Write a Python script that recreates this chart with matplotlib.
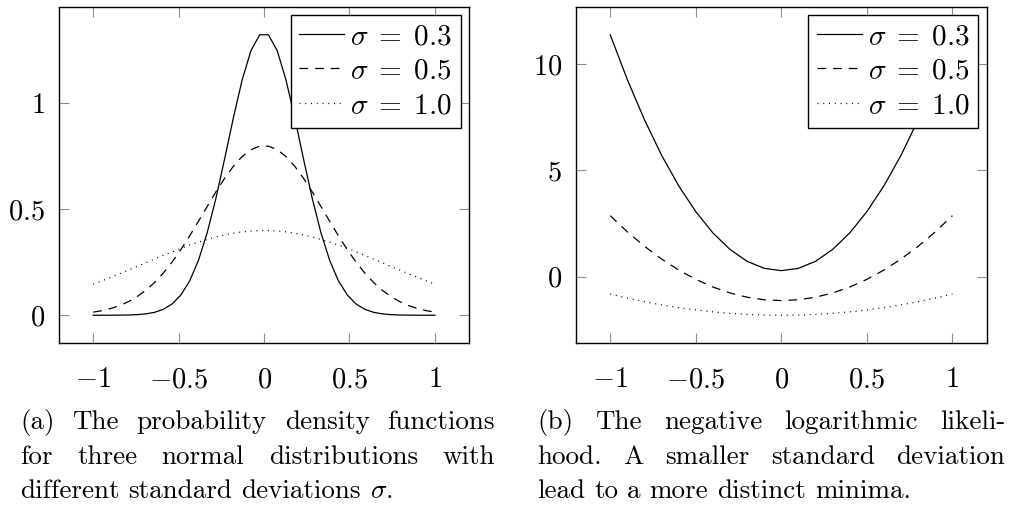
import numpy as np
import matplotlib
matplotlib.use("Agg")
import matplotlib.pyplot as plt

plt.rcParams["font.family"] = ["cmr10", "DejaVu Serif"]
plt.rcParams["mathtext.fontset"] = "cm"
plt.rcParams["axes.formatter.use_mathtext"] = True

# left plot: x >= 0 half of the 40 samples (curves are symmetric)
x_half = [0.0256, 0.0769, 0.1282, 0.1795, 0.2308, 0.2821, 0.3333, 0.3846, 0.4359, 0.4872,
          0.5385, 0.5897, 0.6410, 0.6923, 0.7436, 0.7949, 0.8462, 0.8974, 0.9487, 1.0]
pdf_03 = [1.3201, 1.2452, 1.1079, 0.9297, 0.7359, 0.5495, 0.3870, 0.2570, 0.1610, 0.0952,
          0.0531, 0.0279, 0.0138, 0.0065, 0.0029, 0.0012, 0.0005, 0.0002, 0.0001, 0.0000]
pdf_05 = [0.7958, 0.7792, 0.7471, 0.7014, 0.6448, 0.5805, 0.5116, 0.4415, 0.3731, 0.3088,
          0.2502, 0.1985, 0.1542, 0.1173, 0.0874, 0.0637, 0.0455, 0.0318, 0.0218, 0.0146]
pdf_10 = [0.3986, 0.3966, 0.3924, 0.3863, 0.3782, 0.3684, 0.3570, 0.3441, 0.3299, 0.3146,
          0.2985, 0.2817, 0.2645, 0.2470, 0.2295, 0.2121, 0.1950, 0.1783, 0.1622, 0.1468]

# right plot: negative log likelihood
x_nll = [-1.0, -0.9, -0.8, -0.7, -0.6, -0.5, -0.4, -0.3, -0.2, -0.1, 0.0,
         0.1, 0.2, 0.3, 0.4, 0.5, 0.6, 0.7, 0.8, 0.9, 1.0]
nll_03 = [11.39, 9.28, 7.39, 5.72, 4.28, 3.06, 2.06, 1.28, 0.72, 0.39, 0.28,
          0.39, 0.72, 1.28, 2.06, 3.06, 4.28, 5.72, 7.39, 9.28, 11.39]
nll_05 = [2.87, 2.11, 1.43, 0.83, 0.31, -0.13, -0.49, -0.77, -0.97, -1.09, -1.13,
          -1.09, -0.97, -0.77, -0.49, -0.13, 0.31, 0.83, 1.43, 2.11, 2.87]
nll_10 = [-0.82, -1.01, -1.18, -1.33, -1.46, -1.57, -1.66, -1.73, -1.78, -1.81, -1.82,
          -1.81, -1.78, -1.73, -1.66, -1.57, -1.46, -1.33, -1.18, -1.01, -0.82]

labels = [r"$\sigma\;=\;0.3$", r"$\sigma\;=\;0.5$", r"$\sigma\;=\;1.0$"]
styles = ["-", (0, (7, 5.5)), (0, (0.8, 3.8))]


def mirror(v, neg=False):
    v = np.array(v)
    return np.concatenate([(-v if neg else v)[::-1], v])


x_pdf = mirror(x_half, neg=True)

fig = plt.figure(figsize=(10.18, 5.08), dpi=100)
ax1 = fig.add_axes([0.058, 0.3242, 0.4028, 0.6626])
ax2 = fig.add_axes([0.5658, 0.3242, 0.4034, 0.6626])

for ys, ls, lab in zip([pdf_03, pdf_05, pdf_10], styles, labels):
    ax1.plot(x_pdf, mirror(ys), color="black", lw=0.9, linestyle=ls, label=lab)
for ys, ls, lab in zip([nll_03, nll_05, nll_10], styles, labels):
    ax2.plot(x_nll, ys, color="black", lw=0.9, linestyle=ls, label=lab)


def enlarge(ax, series):
    lo = min(min(s) for s in series)
    hi = max(max(s) for s in series)
    d = 0.1 * (hi - lo)
    ax.set_ylim(lo - d, hi + d)
    ax.set_xlim(-1.2, 1.2)


enlarge(ax1, [mirror(pdf_03), mirror(pdf_05), mirror(pdf_10)])
enlarge(ax2, [nll_03, nll_05, nll_10])

xt = [-1, -0.5, 0, 0.5, 1]
xtl = [r"$-1$", r"$-0.5$", r"$0$", r"$0.5$", r"$1$"]
for ax, yt, ytl in [(ax1, [0, 0.5, 1], [r"$0$", r"$0.5$", r"$1$"]),
                    (ax2, [0, 5, 10], [r"$0$", r"$5$", r"$10$"])]:
    ax.set_xticks(xt)
    ax.set_xticklabels(xtl)
    ax.set_yticks(yt)
    ax.set_yticklabels(ytl)
    ax.tick_params(direction="in", length=7.5, width=0.8, color="#8c8c8c",
                   top=True, right=True, labelsize=20.5)
    ax.tick_params(axis="x", pad=17)
    ax.tick_params(axis="y", pad=10)
    for sp in ax.spines.values():
        sp.set_linewidth(1.0)
    leg = ax.legend(loc="upper right", fontsize=21, frameon=True, fancybox=False,
                    framealpha=1, edgecolor="black", handlelength=1.55,
                    handletextpad=0.2, borderpad=0.3, labelspacing=0.28,
                    borderaxespad=0.28)
    leg.get_frame().set_linewidth(1.0)

# captions, justified like the LaTeX subcaptions
cap_size = 19.5
renderer = fig.canvas.get_renderer()


def line(text, x0, x1, y, justify=True):
    words = text.split(" ")
    ts = [fig.text(0, 1 - y / 508, w, fontsize=cap_size, va="baseline") for w in words]
    ws = [t.get_window_extent(renderer).width for t in ts]
    if justify and len(ws) > 1:
        gap = (x1 - x0 - sum(ws)) / (len(ws) - 1)
    else:
        gap = 0.333 * cap_size * 100 / 72
    x = x0
    for t, w in zip(ts, ws):
        t.set_x(x / 1018)
        x += w + gap


cap_a = ["(a) The probability density functions",
         "for three normal distributions with",
         r"different standard deviations $\sigma$."]
cap_b = ["(b) The negative logarithmic likeli-",
         "hood. A smaller standard deviation",
         "lead to a more distinct minima."]
for i, y in enumerate([429, 464, 498]):
    last = i == 2
    line(cap_a[i], 20, 495, y, justify=not last)
    line(cap_b[i], 537, 1005, y, justify=not last)

fig.savefig("out.png", dpi=100)
